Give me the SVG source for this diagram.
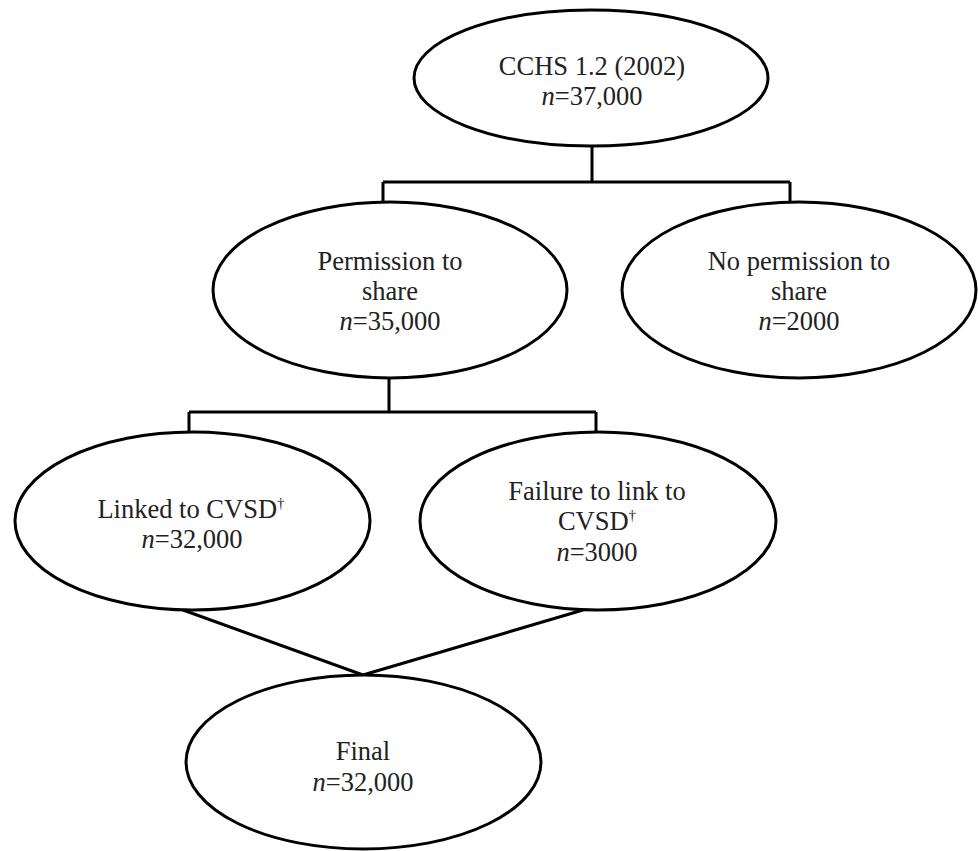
<svg xmlns="http://www.w3.org/2000/svg" width="978" height="851" viewBox="0 0 978 851">
<style>
.node ellipse{fill:#fff;stroke:#000;stroke-width:3}
.conn{fill:none;stroke:#000;stroke-width:3}
text{font-family:"Liberation Serif","Times New Roman",serif;font-size:26.5px;fill:#222;text-anchor:middle}
.i{font-style:italic}
.sup{font-size:15px}
</style>
<rect width="978" height="851" fill="#fff"/>
<g id="connectors" class="conn">
<path d="M592 147V182M383 182H790M383 182V202M790 182V202"/>
<path d="M389 378V412M189 412H596M189 412V432M596 412V432"/>
<path d="M183 610L363 675M583 610L363 675"/>
</g>
<g id="n-cchs" class="node">
<ellipse cx="591" cy="78" rx="177" ry="68"/>
<text x="592" y="75">CCHS 1.2 (2002)</text>
<text x="592" y="105"><tspan class="i">n</tspan>=37,000</text>
</g>
<g id="n-permission" class="node">
<ellipse cx="390" cy="290" rx="177" ry="88"/>
<text x="390" y="270">Permission to</text>
<text x="390" y="300">share</text>
<text x="390" y="330"><tspan class="i">n</tspan>=35,000</text>
</g>
<g id="n-nopermission" class="node">
<ellipse cx="799" cy="290" rx="177" ry="88"/>
<text x="799" y="270">No permission to</text>
<text x="799" y="300">share</text>
<text x="799" y="330"><tspan class="i">n</tspan>=2000</text>
</g>
<g id="n-linked" class="node">
<ellipse cx="192.5" cy="521" rx="177.5" ry="89"/>
<text x="191" y="518">Linked to CVSD<tspan class="sup" dy="-10">†</tspan></text>
<text x="192" y="548"><tspan class="i">n</tspan>=32,000</text>
</g>
<g id="n-failure" class="node">
<ellipse cx="598" cy="521" rx="178" ry="89"/>
<text x="597" y="500">Failure to link to</text>
<text x="597" y="530">CVSD<tspan class="sup" dy="-10">†</tspan></text>
<text x="597" y="561"><tspan class="i">n</tspan>=3000</text>
</g>
<g id="n-final" class="node">
<ellipse cx="363.5" cy="762" rx="177.5" ry="87"/>
<text x="363" y="760">Final</text>
<text x="363" y="791"><tspan class="i">n</tspan>=32,000</text>
</g>
</svg>
